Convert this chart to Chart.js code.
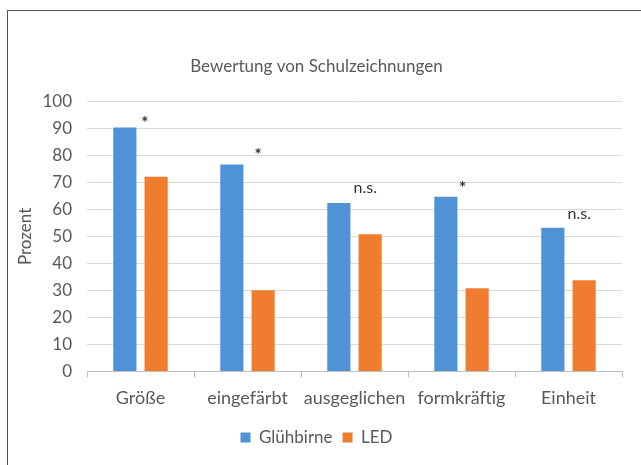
<!DOCTYPE html>
<html>
<head>
<meta charset="utf-8">
<script src="https://cdn.jsdelivr.net/npm/chart.js@4.4.1/dist/chart.umd.min.js"></script>
<style>
  html, body { margin: 0; padding: 0; background: #fff; }
  #wrap { position: relative; width: 641px; height: 465px; overflow: hidden; }
  #frame { position: absolute; left: 7px; top: 10px; width: 700px; height: 500px;
           border-left: 1.5px solid #555; border-top: 1.5px solid #555; }
  canvas { position: absolute; left: 0; top: 0; }
</style>
</head>
<body>
<div id="wrap">
  <div id="frame"></div>
  <canvas id="chart" width="641" height="465"></canvas>
</div>
<script>
// Bewertung von Schulzeichnungen - Glühbirne vs LED
const categories = ['Größe', 'eingefärbt', 'ausgeglichen', 'formkräftig', 'Einheit'];
const gluehbirne = [90.3, 76.6, 62.4, 64.7, 53.2];
const led = [72.1, 30.1, 50.8, 30.8, 33.8];

// significance marks: text, position (category index, value)
const sigLabels = ['*', '*', 'n.s.', '*', 'n.s.'];
const sigIndex = [0.04, 1.1, 2.1, 3.01, 4.1];
const sigValue = [93, 81, 68, 69, 58.5];

const textColor = '#595959';
const fontFamily = "Lato, 'Open Sans', sans-serif";

const sigPlugin = {
    id: 'sigMarks',
    afterDatasetsDraw(chart) {
        const ctx = chart.ctx;
        const xs = chart.scales.x;
        const ys = chart.scales.y;
        ctx.save();
        ctx.fillStyle = '#333';
        ctx.textAlign = 'center';
        ctx.textBaseline = 'middle';
        sigLabels.forEach((t, i) => {
            ctx.font = (t === '*' ? 'bold 17px ' : '16px ') + fontFamily;
            const dy = t === '*' ? 3 : 0;
            ctx.fillText(t, xs.getPixelForValue(sigIndex[i]), ys.getPixelForValue(sigValue[i]) + dy);
        });
        ctx.restore();
    }
};

new Chart(document.getElementById('chart').getContext('2d'), {
    type: 'bar',
    data: {
        labels: categories,
        datasets: [
            { label: 'Glühbirne', data: gluehbirne, backgroundColor: '#4f92d6' },
            { label: 'LED', data: led, backgroundColor: '#f07c2f' }
        ]
    },
    options: {
        responsive: false,
        animation: false,
        categoryPercentage: 0.585,
        barPercentage: 0.74,
        layout: { padding: { left: 11, right: 19, top: 0, bottom: 9 } },
        plugins: {
            title: {
                display: true,
                text: 'Bewertung von Schulzeichnungen',
                color: textColor,
                font: { family: fontFamily, size: 17, weight: 'normal' },
                padding: { top: 56, bottom: 25 }
            },
            legend: {
                position: 'bottom',
                labels: {
                    color: textColor,
                    font: { family: fontFamily, size: 17 },
                    boxWidth: 10,
                    boxHeight: 10,
                    padding: 10
                }
            },
            tooltip: { enabled: false }
        },
        scales: {
            x: {
                grid: { drawOnChartArea: false, drawTicks: true, tickLength: 6, color: '#bfbfbf' },
                border: { display: true, color: '#bfbfbf' },
                ticks: {
                    color: textColor, font: { family: fontFamily, size: 18 }, padding: 10,
                    minRotation: 0, maxRotation: 0, autoSkip: false
                }
            },
            y: {
                min: 0,
                max: 100,
                afterFit(scale) { scale.width = 76; },
                ticks: { stepSize: 10, color: textColor, font: { family: fontFamily, size: 17 }, padding: 15 },
                grid: { color: '#e0d8d8', drawTicks: false },
                border: { display: false },
                title: {
                    display: true,
                    text: 'Prozent',
                    color: textColor,
                    font: { family: fontFamily, size: 17 },
                    padding: { top: 4, bottom: 2 }
                }
            }
        }
    },
    plugins: [sigPlugin]
});
</script>
</body>
</html>
